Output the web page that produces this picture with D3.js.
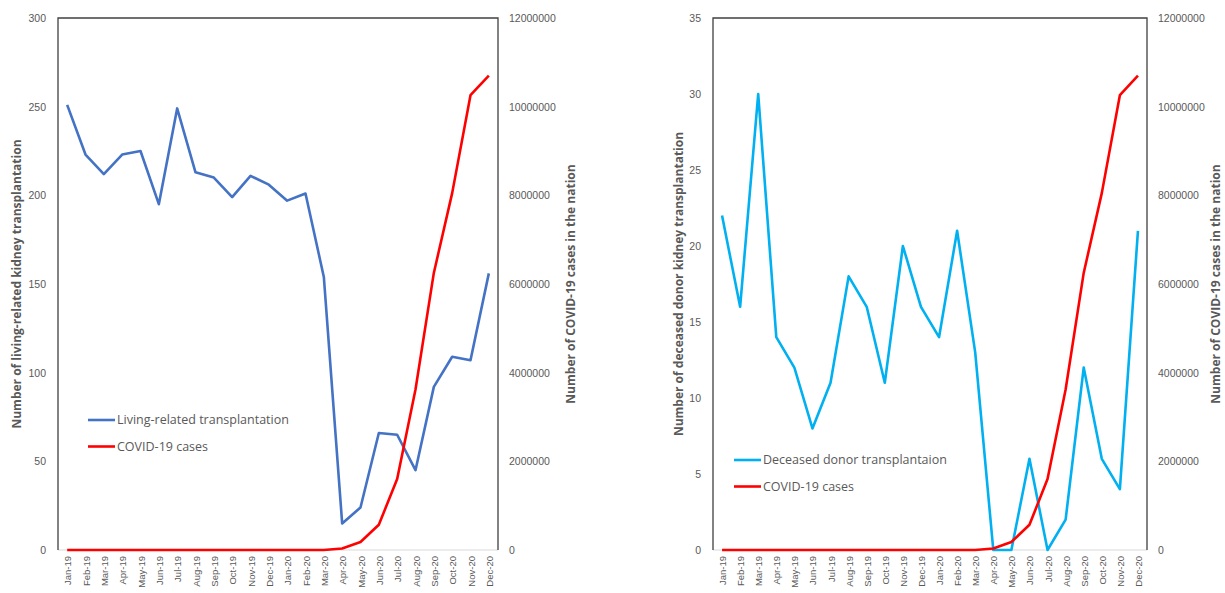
<!DOCTYPE html>
<html>
<head>
<meta charset="utf-8">
<script src="https://cdn.jsdelivr.net/npm/d3@7"></script>
<style>
  html, body { margin: 0; padding: 0; background: #fff; }
  svg { display: block; font-family: "Open Sans", "Noto Sans", sans-serif; }
</style>
</head>
<body>
<svg id="chart" width="1225" height="593"></svg>
<script>
const months = [
  "Jan-19", "Feb-19", "Mar-19", "Apr-19", "May-19", "Jun-19",
  "Jul-19", "Aug-19", "Sep-19", "Oct-19", "Nov-19", "Dec-19",
  "Jan-20", "Feb-20", "Mar-20", "Apr-20", "May-20", "Jun-20",
  "Jul-20", "Aug-20", "Sep-20", "Oct-20", "Nov-20", "Dec-20",
];

const livingRelated = [
  251, 223, 212, 223, 225, 195, 249, 213, 210, 199, 211, 206,
  197, 201, 154, 15, 24, 66, 65, 45, 92, 109, 107, 156,
];

const deceasedDonor = [
  22, 16, 30, 14, 12, 8, 11, 18, 16, 11, 20, 16,
  14, 21, 13, 0, 0, 6, 0, 2, 12, 6, 4, 21,
];

const covidCases = [
  0, 0, 0, 0, 0, 0, 0, 0, 0, 0, 0, 0,
  0, 0, 1600, 35000, 180000, 570000, 1600000, 3620000, 6250000, 8050000, 10260000, 10700000,
];

const livingTicks = [0, 50, 100, 150, 200, 250, 300];
const deceasedTicks = [0, 5, 10, 15, 20, 25, 30, 35];
const covidTicks = [0, 2000000, 4000000, 6000000, 8000000, 10000000, 12000000];

const TEXT = "#595959";
const RED = "#ff0000";

const svg = d3.select("#chart");

const panels = [
  {
    left: 58, right: 498, top: 18, bottom: 550,
    values: livingRelated, ticks: livingTicks, color: "#4472c4",
    leftTitle: "Number of living-related kidney transplantation", leftTitleX: 17,
    rightTitleX: 571,
    legendName: "Living-related transplantation", legendX: 88, legendY: 420,
  },
  {
    left: 713, right: 1147, top: 18, bottom: 550,
    values: deceasedDonor, ticks: deceasedTicks, color: "#00b0f0",
    leftTitle: "Number of deceased donor kidney transplantation", leftTitleX: 679,
    rightTitleX: 1216,
    legendName: "Deceased donor transplantaion", legendX: 734, legendY: 460,
  },
];

function drawPanel(p) {
  const g = svg.append("g");

  const x = d3.scalePoint().domain(months).range([p.left, p.right]).padding(0.5);
  const y = d3.scaleLinear().domain([0, d3.max(p.ticks)]).range([p.bottom, p.top]);
  const y2 = d3.scaleLinear().domain([0, d3.max(covidTicks)]).range([p.bottom, p.top]);

  // plot frame
  g.append("line")
    .attr("x1", p.left).attr("x2", p.right)
    .attr("y1", p.bottom).attr("y2", p.bottom)
    .attr("stroke", "#d9d9d9").attr("stroke-width", 1);
  g.append("path")
    .attr("d", `M${p.left},${p.bottom}V${p.top}H${p.right}V${p.bottom}`)
    .attr("fill", "none").attr("stroke", "#404040").attr("stroke-width", 1.3);

  // left axis
  const gy = g.append("g")
    .attr("transform", `translate(${p.left - 12},0)`)
    .call(d3.axisLeft(y).tickValues(p.ticks).tickSize(0).tickPadding(0));
  gy.select(".domain").remove();
  gy.selectAll("text").attr("fill", TEXT).style("font-size", "10.5px");

  // right axis
  const gy2 = g.append("g")
    .attr("transform", `translate(${p.right + 11},0)`)
    .call(d3.axisRight(y2).tickValues(covidTicks).tickSize(0).tickPadding(0).tickFormat(d3.format("d")));
  gy2.select(".domain").remove();
  gy2.selectAll("text").attr("fill", TEXT).style("font-size", "10.5px");

  // bottom axis, rotated labels
  const gx = g.append("g")
    .attr("transform", `translate(0,${p.bottom})`)
    .call(d3.axisBottom(x).tickSize(0).tickPadding(0));
  gx.select(".domain").remove();
  gx.selectAll("text")
    .attr("fill", TEXT)
    .style("font-size", "9.5px")
    .attr("text-anchor", "end")
    .attr("dy", null)
    .attr("y", 0)
    .attr("transform", "translate(3.5,6) rotate(-90)");

  // axis titles
  const midY = (p.top + p.bottom) / 2;
  g.append("text")
    .attr("transform", `translate(${p.leftTitleX},${midY}) rotate(-90)`)
    .attr("text-anchor", "middle").attr("dy", "0.35em")
    .attr("fill", TEXT).attr("font-weight", "bold").style("font-size", "12px")
    .text(p.leftTitle);
  g.append("text")
    .attr("transform", `translate(${p.rightTitleX},${midY}) rotate(-90)`)
    .attr("text-anchor", "middle").attr("dy", "0.35em")
    .attr("fill", TEXT).attr("font-weight", "bold").style("font-size", "12px")
    .text("Number of COVID-19 cases in the nation");

  // series
  g.append("path")
    .datum(p.values)
    .attr("fill", "none").attr("stroke", p.color).attr("stroke-width", 2.6)
    .attr("stroke-linejoin", "round")
    .attr("d", d3.line().x((d, i) => x(months[i])).y((d) => y(d)));

  g.append("path")
    .datum(covidCases)
    .attr("fill", "none").attr("stroke", RED).attr("stroke-width", 2.6)
    .attr("stroke-linejoin", "round")
    .attr("d", d3.line().x((d, i) => x(months[i])).y((d) => y2(d)));

  // legend
  const items = [
    { name: p.legendName, color: p.color },
    { name: "COVID-19 cases", color: RED },
  ];
  items.forEach((it, i) => {
    const ly = p.legendY + i * 26.5;
    g.append("line")
      .attr("x1", p.legendX).attr("x2", p.legendX + 27)
      .attr("y1", ly).attr("y2", ly)
      .attr("stroke", it.color).attr("stroke-width", 2.6);
    g.append("text")
      .attr("x", p.legendX + 29).attr("y", ly).attr("dy", "0.35em")
      .attr("fill", TEXT).style("font-size", "12.5px")
      .text(it.name);
  });
}

panels.forEach(drawPanel);
</script>
</body>
</html>
